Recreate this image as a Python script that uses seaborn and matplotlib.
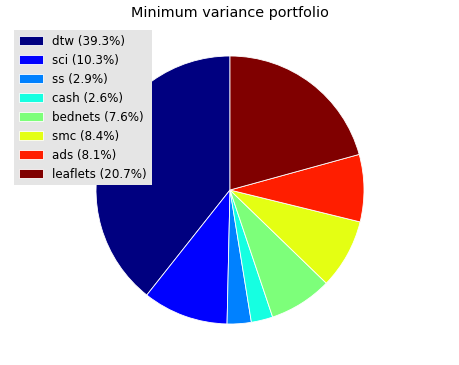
import matplotlib
matplotlib.use("Agg")
import matplotlib.pyplot as plt
import seaborn as sns
import numpy as np

labels = ["dtw", "sci", "ss", "cash", "bednets", "smc", "ads", "leaflets"]
values = [39.3, 10.3, 2.9, 2.6, 7.6, 8.4, 8.1, 20.7]
title = "Minimum variance portfolio"

sns.set_style("white")
plt.rcParams['font.family'] = ['DejaVu Sans']
plt.rcParams['text.color'] = 'black'

# jet colormap sampled on a 9-step grid (one step unused in the source chart)
grid = np.linspace(0, 1, 9)
color_pos = np.delete(grid, 6)
colors = [plt.cm.jet(x) for x in color_pos]

fig = plt.figure(figsize=(4.6, 3.65), dpi=100)
ax = fig.add_axes([(230 - 167.5) / 460, (175 - 167.5) / 365, 335 / 460, 335 / 365])
wedges, _ = ax.pie(values, colors=colors, startangle=90, counterclock=True,
                   wedgeprops=dict(edgecolor="white", linewidth=0.6))
ax.set_xlim(-1.25, 1.25)
ax.set_ylim(-1.25, 1.25)
ax.set_aspect("equal")
ax.axis("off")
fig.text(0.5, 1 - 13 / 365, title, ha="center", va="center", fontsize=10.4,
         color="black")

leg_labels = [f"{l} ({v:.1f}%)" for l, v in zip(labels, values)]
leg = fig.legend(wedges, leg_labels, loc="upper left",
                 bbox_to_anchor=(14 / 460, 1 - 30 / 365), borderaxespad=0,
                 fontsize=8.6, fancybox=False, frameon=True, framealpha=1,
                 labelcolor="black")
leg.get_frame().set_facecolor("#e5e5e5")
leg.get_frame().set_edgecolor("none")

fig.savefig("out.png", dpi=100)
